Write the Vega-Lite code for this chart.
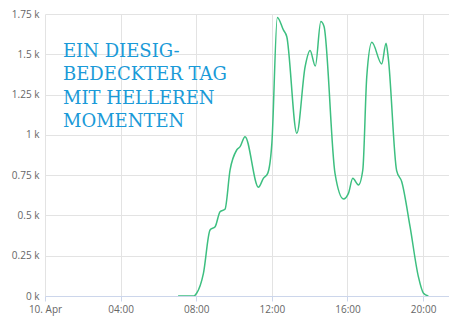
{
  "$schema": "https://vega.github.io/schema/vega-lite/v6.json",
  "width": 404,
  "height": 282,
  "autosize": "none",
  "padding": {"left": 45, "top": 14, "right": 0, "bottom": 25},
  "background": "white",
  "config": {"view": {"stroke": null}},
  "layer": [
    {
      "data": {"values": [
        {"t": 7.04, "v": 0}, {"t": 7.88, "v": 0}, {"t": 8.02, "v": 17}, {"t": 8.38, "v": 141},
        {"t": 8.73, "v": 410}, {"t": 9.0, "v": 430}, {"t": 9.26, "v": 523}, {"t": 9.52, "v": 538},
        {"t": 9.79, "v": 782}, {"t": 10.14, "v": 906}, {"t": 10.32, "v": 927}, {"t": 10.58, "v": 989},
        {"t": 11.29, "v": 675}, {"t": 11.55, "v": 730}, {"t": 11.78, "v": 761}, {"t": 12.0, "v": 947},
        {"t": 12.29, "v": 1729}, {"t": 12.61, "v": 1651}, {"t": 12.79, "v": 1609}, {"t": 13.32, "v": 1010},
        {"t": 13.76, "v": 1423}, {"t": 14.02, "v": 1523}, {"t": 14.3, "v": 1427}, {"t": 14.59, "v": 1703},
        {"t": 14.76, "v": 1672}, {"t": 15.34, "v": 761}, {"t": 15.79, "v": 602}, {"t": 16.05, "v": 637},
        {"t": 16.28, "v": 730}, {"t": 16.58, "v": 689}, {"t": 16.81, "v": 782}, {"t": 17.02, "v": 1361},
        {"t": 17.29, "v": 1574}, {"t": 17.81, "v": 1440}, {"t": 18.04, "v": 1568}, {"t": 18.16, "v": 1475},
        {"t": 18.6, "v": 778}, {"t": 18.87, "v": 709}, {"t": 19.31, "v": 430}, {"t": 19.75, "v": 120},
        {"t": 20.02, "v": 17}, {"t": 20.28, "v": 0}
      ]},
      "mark": {"type": "line", "color": "#3dbf80", "strokeWidth": 1.5, "interpolate": "monotone", "clip": true},
      "encoding": {
        "x": {"field": "t", "type": "quantitative",
          "scale": {"domain": [0, 21.37], "nice": false, "zero": false},
          "axis": {"title": null, "values": [0, 4, 8, 12, 16, 20],
            "labelExpr": "datum.value == 0 ? '10. Apr' : (datum.value < 10 ? '0' : '') + datum.value + ':00'",
            "grid": true, "gridColor": "#e3e3e3", "domainColor": "#ccd6eb", "tickColor": "#ccd6eb", "tickSize": 5,
            "labelColor": "#666666", "labelFont": "Open Sans", "labelFontSize": 10, "labelPadding": 3,
            "labelFlush": false}},
        "y": {"field": "v", "type": "quantitative",
          "scale": {"domain": [0, 1750], "nice": false},
          "axis": {"title": null, "values": [0, 250, 500, 750, 1000, 1250, 1500, 1750],
            "labelExpr": "(datum.value / 1000) + ' k'",
            "grid": true, "gridColor": "#e3e3e3", "domain": false, "ticks": false,
            "labelColor": "#666666", "labelFont": "Open Sans", "labelFontSize": 10, "labelPadding": 6}}
      }
    },
    {
      "data": {"values": [{"caption": "Ein diesig-bedeckter Tag mit helleren Momenten"}]},
      "mark": {"type": "text", "align": "left", "baseline": "alphabetic", "font": "DejaVu Serif",
        "fontSize": 18, "fontWeight": "normal", "color": "#1a9ad8", "lineHeight": 23.5},
      "encoding": {
        "x": {"datum": 0.95},
        "y": {"datum": 1485},
        "text": {"value": ["EIN DIESIG-", "BEDECKTER TAG", "MIT HELLEREN", "MOMENTEN"]}
      }
    }
  ]
}
